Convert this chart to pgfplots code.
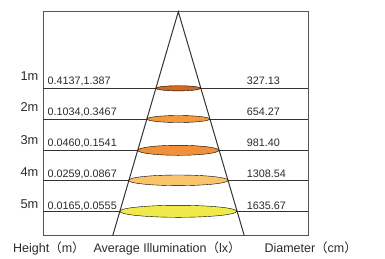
\documentclass[border=0pt]{standalone}
\usepackage{pgfplots}
\pgfplotsset{compat=1.18}
\usepackage{fontspec}
\setmainfont{Liberation Sans}
\newfontfamily\cjk{Noto Sans CJK SC}
\definecolor{lc}{HTML}{333333}
\definecolor{bc}{HTML}{555555}
\definecolor{tc}{HTML}{2A2A2A}
\definecolor{e1}{HTML}{D06A1F}
\definecolor{e2}{HTML}{F39A3C}
\definecolor{e3}{HTML}{F0913A}
\definecolor{e4}{HTML}{F7C46C}
\definecolor{e5}{HTML}{EFE94C}
\begin{document}
\begin{tikzpicture}
\begin{axis}[
  width=385pt, height=258pt, scale only axis,
  xmin=0, xmax=385, ymin=0, ymax=258, y dir=reverse,
  hide axis, clip=false,
]
\addplot[draw=none] coordinates {(0,0) (385,258)};
% box
\addplot[bc, line width=1.1pt] coordinates {(43.3,11.7) (308.3,11.7) (308.3,235.7) (43.3,235.7) (43.3,11.7)};
% row lines
\addplot[lc, line width=0.9pt] coordinates {(43.3,88.3) (308.3,88.3)};
\addplot[lc, line width=0.9pt] coordinates {(43.3,119) (308.3,119)};
\addplot[lc, line width=0.9pt] coordinates {(43.3,150.3) (308.3,150.3)};
\addplot[lc, line width=0.9pt] coordinates {(43.3,180.3) (308.3,180.3)};
\addplot[lc, line width=0.9pt] coordinates {(43.3,211.3) (308.3,211.3)};
% ellipses (beam spots)
\addplot[only marks, mark=*, mark size=2.6pt, mark options={xscale=8.6, fill=e1, draw=none}] coordinates {(178.3,88.3)};
\addplot[only marks, mark=*, mark size=3.5pt, mark options={xscale=8.95, fill=e2, draw=none}] coordinates {(178.3,119)};
\addplot[only marks, mark=*, mark size=5pt, mark options={xscale=8.1, fill=e3, draw=none}] coordinates {(178.3,150.3)};
\addplot[only marks, mark=*, mark size=5.3pt, mark options={xscale=9.4, fill=e4, draw=none}] coordinates {(178.3,180.3)};
\addplot[only marks, mark=*, mark size=6pt, mark options={xscale=9.75, fill=e5, draw=none}] coordinates {(178.3,211.3)};
% cone
\addplot[lc, line width=1pt] coordinates {(112.7,235.7) (178.3,11.7) (244.3,235.7)};
% labels
\begin{scope}[every node/.style={text=tc, inner sep=0pt}]
\node[anchor=base east, font=\fontsize{12.8}{14}\selectfont] at (axis cs:38.5,80) {1m};
\node[anchor=base east, font=\fontsize{12.8}{14}\selectfont] at (axis cs:38.5,111.7) {2m};
\node[anchor=base east, font=\fontsize{12.8}{14}\selectfont] at (axis cs:38.5,144.7) {3m};
\node[anchor=base east, font=\fontsize{12.8}{14}\selectfont] at (axis cs:38.5,176.3) {4m};
\node[anchor=base east, font=\fontsize{12.8}{14}\selectfont] at (axis cs:38.5,208) {5m};
\node[anchor=base west, font=\fontsize{10.8}{12}\selectfont] at (axis cs:47.5,84) {0.4137,1.387};
\node[anchor=base west, font=\fontsize{10.8}{12}\selectfont] at (axis cs:47.5,115) {0.1034,0.3467};
\node[anchor=base west, font=\fontsize{10.8}{12}\selectfont] at (axis cs:47.5,146.3) {0.0460,0.1541};
\node[anchor=base west, font=\fontsize{10.8}{12}\selectfont] at (axis cs:47.5,177.3) {0.0259,0.0867};
\node[anchor=base west, font=\fontsize{10.8}{12}\selectfont] at (axis cs:47.5,209) {0.0165,0.0555};
\node[anchor=base west, font=\fontsize{10.8}{12}\selectfont] at (axis cs:246.7,84) {327.13};
\node[anchor=base west, font=\fontsize{10.8}{12}\selectfont] at (axis cs:246.7,115) {654.27};
\node[anchor=base west, font=\fontsize{10.8}{12}\selectfont] at (axis cs:246.7,146.3) {981.40};
\node[anchor=base west, font=\fontsize{10.8}{12}\selectfont] at (axis cs:246.7,177.3) {1308.54};
\node[anchor=base west, font=\fontsize{10.8}{12}\selectfont] at (axis cs:246.7,209) {1635.67};
\node[anchor=base west, font=\fontsize{12.5}{14}\selectfont] at (axis cs:13,252) {Height{\cjk （}m{\cjk ）}};
\node[anchor=base west, font=\fontsize{12.5}{14}\selectfont] at (axis cs:93.3,252) {Average Illumination{\cjk （}lx{\cjk ）}};
\node[anchor=base west, font=\fontsize{12.5}{14}\selectfont] at (axis cs:264.3,252) {Diameter{\cjk （}cm{\cjk ）}};
\end{scope}
\end{axis}
\end{tikzpicture}
\end{document}
